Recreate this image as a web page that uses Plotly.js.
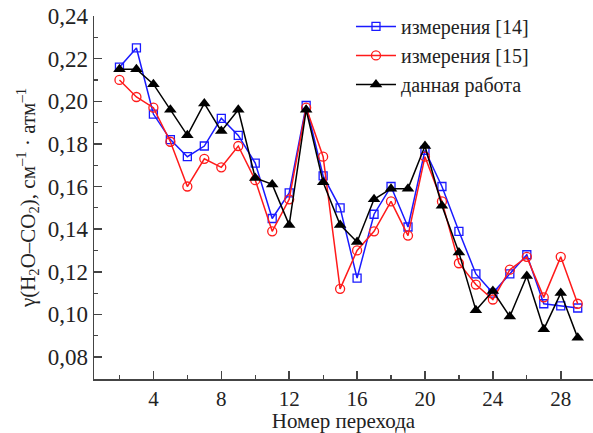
<!DOCTYPE html>
<html>
<head>
<meta charset="utf-8">
<script src="https://cdn.plot.ly/plotly-3.0.1.min.js"></script>
<style>html,body{margin:0;padding:0;background:#fff;}#chart{width:593px;height:433px;}</style>
</head>
<body>
<div id="chart"></div>
<script>
const transitions = [2,3,4,5,6,7,8,9,10,11,12,13,14,15,16,17,18,19,20,21,22,23,24,25,26,27,28,29];
const meas14 = [0.216,0.225,0.194,0.182,0.174,0.179,0.192,0.184,0.171,0.145,0.157,0.198,0.165,0.150,0.117,0.147,0.160,0.141,0.177,0.160,0.139,0.119,0.110,0.119,0.128,0.105,0.104,0.103];
const meas15 = [0.210,0.202,0.197,0.181,0.160,0.173,0.169,0.179,0.163,0.139,0.154,0.197,0.174,0.112,0.130,0.139,0.153,0.137,0.174,0.153,0.124,0.114,0.107,0.121,0.127,0.108,0.127,0.105];
const thisWork = [0.215,0.215,0.208,0.196,0.184,0.199,0.186,0.196,0.164,0.161,0.142,0.196,0.162,0.142,0.134,0.154,0.159,0.159,0.179,0.151,0.129,0.102,0.111,0.099,0.118,0.093,0.110,0.089];
const seriesNames = ['измерения [14]','измерения [15]','данная работа'];
const xTitle = 'Номер перехода';
const yTitle = 'γ(H<sub>2</sub>O–CO<sub>2</sub>), см<sup>–1</sup> · атм<sup>–1</sup>';

const font = 'Liberation Serif';
const txt = '#222';
const traces = [
  {x: transitions, y: meas14, name: seriesNames[0], mode: 'lines+markers',
   line: {color: '#1a1aff', width: 1.5},
   marker: {symbol: 'square-open', size: 8, color: '#1a1aff', line: {width: 1.3}}},
  {x: transitions, y: meas15, name: seriesNames[1], mode: 'lines+markers',
   line: {color: '#ff1a1a', width: 1.5},
   marker: {symbol: 'circle-open', size: 9, color: '#ff1a1a', line: {width: 1.3}}},
  {x: transitions, y: thisWork, name: seriesNames[2], mode: 'lines+markers',
   line: {color: '#000000', width: 1.5},
   marker: {symbol: 'triangle-up', size: 11, color: '#000000'}}
];
const layout = {
  width: 593, height: 433,
  margin: {l: 94, r: 0, t: 16, b: 54},
  paper_bgcolor: '#fff', plot_bgcolor: '#fff',
  font: {family: font, size: 20, color: txt},
  showlegend: true,
  legend: {x: 0.515, y: 1.025, xanchor: 'left', yanchor: 'top', bgcolor: 'rgba(0,0,0,0)',
           itemwidth: 40, font: {family: font, size: 20, color: txt}, tracegroupgap: 0},
  xaxis: {
    range: [0.5, 29.9], tick0: 0, dtick: 4, ticks: 'inside', ticklen: 8, tickwidth: 1.5,
    tickcolor: '#444', showline: true, linecolor: '#444', linewidth: 1.5,
    showgrid: false, zeroline: false,
    minor: {dtick: 2, tick0: 0, ticks: 'inside', ticklen: 4, tickwidth: 1.2, tickcolor: '#444'},
    tickfont: {family: font, size: 21, color: txt},
    title: {text: xTitle, font: {family: font, size: 21, color: txt}, standoff: 2}
  },
  yaxis: {
    range: [0.0697, 0.24], tick0: 0, dtick: 0.02, ticks: 'inside', ticklen: 8, tickwidth: 1.5,
    tickcolor: '#444', showline: true, linecolor: '#444', linewidth: 1.5,
    showgrid: false, zeroline: false,
    tickformat: '.2f',
    minor: {dtick: 0.01, tick0: 0, ticks: 'inside', ticklen: 4, tickwidth: 1.2, tickcolor: '#444'},
    tickfont: {family: font, size: 23, color: txt},
    title: {text: yTitle, font: {family: font, size: 21, color: txt}, standoff: 6}
  },
  separators: ', '
};
Plotly.newPlot('chart', traces, layout, {displayModeBar: false, staticPlot: true});
</script>
</body>
</html>
